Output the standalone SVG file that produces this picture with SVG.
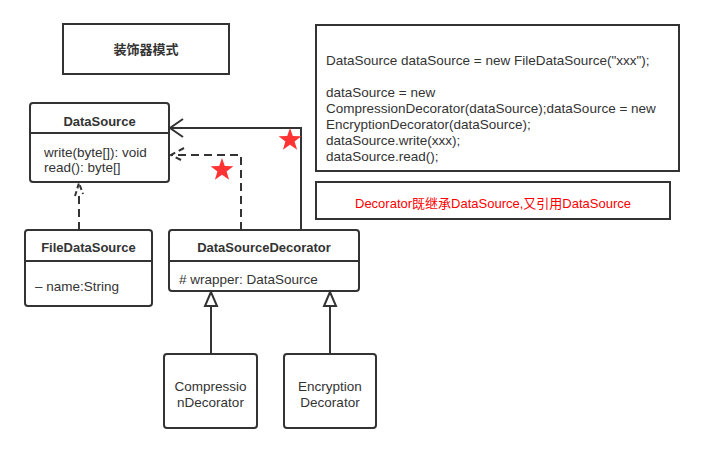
<svg xmlns="http://www.w3.org/2000/svg" width="704" height="454" viewBox="0 0 704 454">
<style>
.box{fill:#fff;stroke:#333;stroke-width:2}
.ln{fill:none;stroke:#333;stroke-width:2}
.t{font-family:"Liberation Sans","Noto Sans CJK SC",sans-serif;font-size:13.5px;fill:#333}
.b{font-weight:bold;font-size:13px}
.m{text-anchor:middle}
.r{fill:#ff0000}
.star{fill:#f33}
</style>
<rect width="704" height="454" fill="#fff"/>
<g id="title"><rect class="box" x="63" y="24" width="166" height="50"/><text class="t b m" x="146" y="54">装饰器模式</text></g>
<g id="code"><rect class="box" x="316" y="25" width="363" height="146"/>
<text class="t" x="326" y="65">DataSource dataSource = new FileDataSource("xxx");</text>
<text class="t" x="326" y="97">dataSource = new</text>
<text class="t" x="326" y="113">CompressionDecorator(dataSource);dataSource = new</text>
<text class="t" x="326" y="129">EncryptionDecorator(dataSource);</text>
<text class="t" x="326" y="145">dataSource.write(xxx);</text>
<text class="t" x="326" y="161">dataSource.read();</text></g>
<g id="note"><rect class="box" x="316" y="182" width="354" height="37"/><text class="t m r" x="493" y="208" style="font-size:13px">Decorator既继承DataSource,又引用DataSource</text></g>
<g id="DataSource"><rect class="box" x="30" y="103" width="139" height="79" rx="3"/><line class="ln" x1="30" y1="133" x2="169" y2="133"/>
<text class="t b m" x="99.5" y="126">DataSource</text>
<text class="t" x="44" y="157">write(byte[]): void</text>
<text class="t" x="44" y="172">read(): byte[]</text></g>
<g id="FileDataSource"><rect class="box" x="25" y="230" width="127" height="76" rx="3"/><line class="ln" x1="25" y1="261" x2="152" y2="261"/>
<text class="t b m" x="88.5" y="252">FileDataSource</text>
<text class="t" x="35" y="291">– name:String</text></g>
<g id="DataSourceDecorator"><rect class="box" x="169" y="230" width="190" height="61" rx="3"/><line class="ln" x1="169" y1="261" x2="359" y2="261"/>
<text class="t b m" x="264" y="252">DataSourceDecorator</text>
<text class="t" x="179" y="284">#  wrapper: DataSource</text></g>
<g id="CompressionDecorator"><rect class="box" x="164" y="354" width="93" height="74" rx="3"/>
<text class="t m" x="210.5" y="391">Compressio</text><text class="t m" x="210.5" y="407">nDecorator</text></g>
<g id="EncryptionDecorator"><rect class="box" x="284" y="354" width="92" height="74" rx="3"/>
<text class="t m" x="330" y="391">Encryption</text><text class="t m" x="330" y="407">Decorator</text></g>
<g id="connectors">
<polyline class="ln" points="301,230 301,128 170,128"/>
<polyline class="ln" points="183,119 170,128 183,137"/>
<polyline class="ln" stroke-dasharray="8,5" points="241,230 241,155 172,155"/>
<polyline class="ln" points="184,148 171,155 181,160" stroke-dasharray="6,4"/>
<polyline class="ln" stroke-dasharray="8,5" points="79,230 79,193"/>
<polyline class="ln" points="75,196 79,183 83,194" stroke-dasharray="5,3"/>
<line class="ln" x1="211" y1="354" x2="211" y2="306"/>
<polygon class="ln" fill="#fff" points="211,292 205,306 217,306"/>
<line class="ln" x1="330" y1="354" x2="330" y2="306"/>
<polygon class="ln" fill="#fff" points="330,292 324,306 336,306"/>
</g>
<g id="stars">
<polygon class="star" transform="translate(290,140)" points="0,-12 2.8,-3.9 11.4,-3.7 4.6,1.5 7.1,9.7 0,4.8 -7.1,9.7 -4.6,1.5 -11.4,-3.7 -2.8,-3.9"/>
<polygon class="star" transform="translate(222,170)" points="0,-12 2.8,-3.9 11.4,-3.7 4.6,1.5 7.1,9.7 0,4.8 -7.1,9.7 -4.6,1.5 -11.4,-3.7 -2.8,-3.9"/>
</g>
</svg>
